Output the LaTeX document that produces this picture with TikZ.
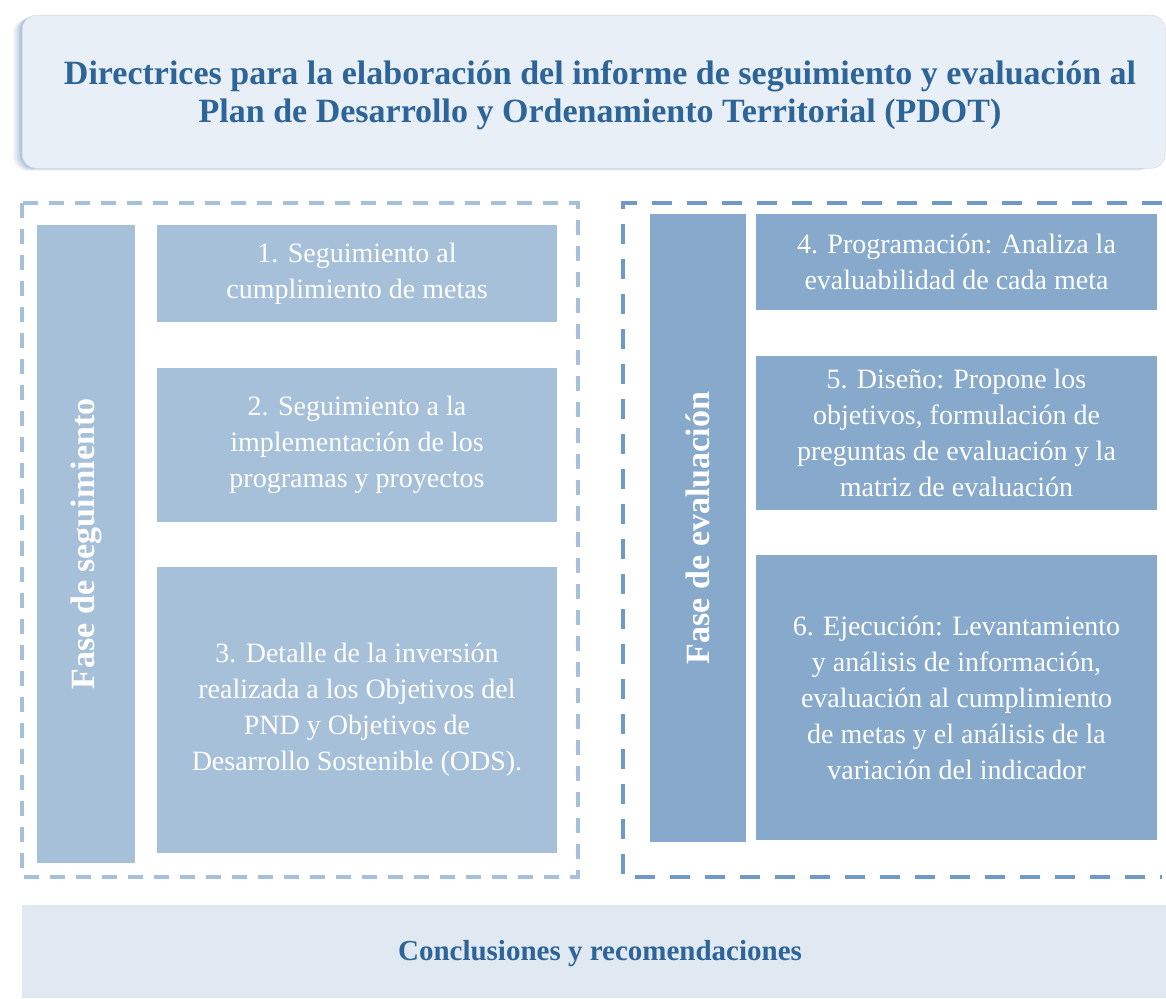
\documentclass[tikz,border=0pt]{standalone}
\usepackage{fontspec}
\setmainfont{Liberation Serif}
\definecolor{titlefill}{HTML}{E9EFF7}
\definecolor{bottomfill}{HTML}{E0E8F2}
\definecolor{titletext}{HTML}{2E6599}
\definecolor{lightbox}{HTML}{A7C0DA}
\definecolor{darkbox}{HTML}{87A9CB}
\definecolor{darkdash}{HTML}{6F9AC4}
\definecolor{shadowc}{HTML}{9FB8D4}
\tikzset{
  stepbox/.style={inner sep=0pt, text=white, align=center,
    font=\fontsize{28}{36}\selectfont},
  lbox/.style={stepbox, fill=lightbox},
  rbox/.style={stepbox, fill=darkbox},
  phase/.style={inner sep=0pt, text=white, align=center,
    font=\fontsize{34}{38}\selectfont\bfseries},
}
\begin{document}
\begin{tikzpicture}[x=1pt,y=-1pt]
\useasboundingbox (0,0) rectangle (1166,998);
% title shadow
\foreach \o/\a in {9/0.14,7/0.2,5/0.28,3/0.38,1.5/0.5}{
  \fill[shadowc, opacity=\a, rounded corners=14pt] (22-\o,15+\o*0.5) rectangle (1160-\o,168+\o*0.3);
}
\node[fill=titlefill, draw=titlefill!85!gray, line width=0.6pt, rounded corners=14pt, inner sep=0pt,
  minimum width=1143pt, minimum height=153pt, anchor=north west] (title) at (22,15) {};
\node[text=titletext, align=center, font=\fontsize{34}{38}\selectfont\bfseries] (titletxt) at (600,95)
  {Directrices para la elaboración del informe de seguimiento y evaluación al\\Plan de Desarrollo y Ordenamiento Territorial (PDOT)};
% dashed frames
\draw[lightbox, line width=4pt, dash pattern=on 15pt off 11pt] (22,203) rectangle (578,877);
\draw[darkdash, line width=4pt, dash pattern=on 20pt off 15pt] (1162,203) -- (623,203) -- (623,877) -- (1162,877);
% left column
\node[lbox, minimum width=98pt, minimum height=638pt] (fs) at (86,544) {};
\node[phase, rotate=90] at (fs.center) {Fase de seguimiento};
\node[lbox, minimum width=400pt, minimum height=97pt] (s1) at (357,273.5) {1. Seguimiento al\\cumplimiento de metas};
\node[lbox, minimum width=400pt, minimum height=154pt] (s2) at (357,445) {2. Seguimiento a la\\implementación de los\\programas y proyectos};
\node[lbox, minimum width=400pt, minimum height=286pt] (s3) at (357,710) {3. Detalle de la inversión\\realizada a los Objetivos del\\PND y Objetivos de\\Desarrollo Sostenible (ODS).};
% right column
\node[rbox, minimum width=96pt, minimum height=628pt] (fe) at (698,528) {};
\node[phase, rotate=90] at (fe.center) {Fase de evaluación};
\node[rbox, minimum width=401pt, minimum height=96pt] (e4) at (956.5,262) {4. Programación: Analiza la\\evaluabilidad de cada meta};
\node[rbox, minimum width=401pt, minimum height=154pt] (e5) at (956.5,433) {5. Diseño: Propone los\\objetivos, formulación de\\preguntas de evaluación y la\\matriz de evaluación};
\node[rbox, minimum width=401pt, minimum height=285pt] (e6) at (956.5,697.5) {6. Ejecución: Levantamiento\\y análisis de información,\\evaluación al cumplimiento\\de metas y el análisis de la\\variación del indicador};
% bottom
\fill[bottomfill] (22,905) rectangle (1166,998);
\node[text=titletext, font=\fontsize{29}{32}\selectfont\bfseries] (concl) at (600,954) {Conclusiones y recomendaciones};
\end{tikzpicture}
\end{document}
